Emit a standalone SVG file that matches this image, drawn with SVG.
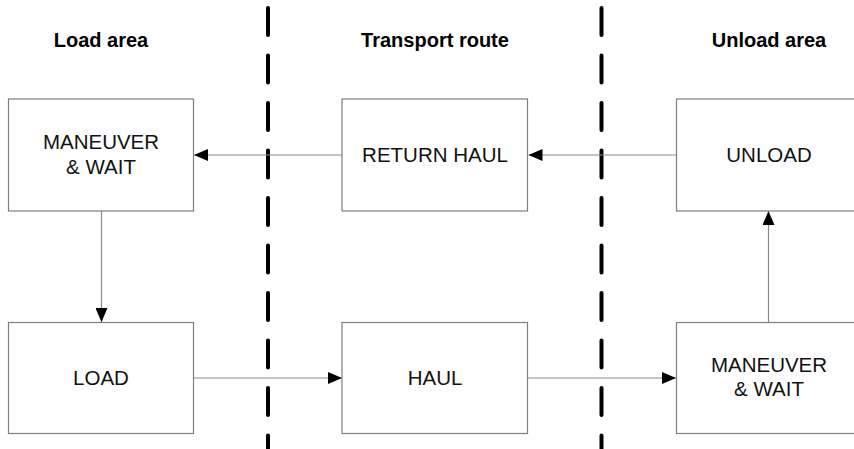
<svg xmlns="http://www.w3.org/2000/svg" width="854" height="449" viewBox="0 0 854 449">
<style>
.box{fill:#fff;stroke:#7f7f7f;stroke-width:1.2}
.t{font-family:"Liberation Sans",Arial,sans-serif;font-size:20.5px;fill:#111;text-anchor:middle}
.h{font-family:"Liberation Sans",Arial,sans-serif;font-size:20px;font-weight:bold;fill:#000;text-anchor:middle}
.c{stroke:#8a8a8a;stroke-width:1.2;fill:none;marker-end:url(#ah)}
.div{stroke:#000;stroke-width:4;stroke-dasharray:27 20.5;stroke-linecap:round;fill:none}
</style>
<defs>
<marker id="ah" viewBox="0 0 14 12" refX="14" refY="6" markerWidth="14" markerHeight="12" markerUnits="userSpaceOnUse" orient="auto">
<path d="M0,0 L14,6 L0,12 Z" fill="#000"/>
</marker>
</defs>
<rect width="854" height="449" fill="#fff"/>
<g id="dividers">
<line class="div" x1="268" y1="8" x2="268" y2="449"/>
<line class="div" x1="601.5" y1="8" x2="601.5" y2="449"/>
</g>
<g id="headers">
<text class="h" x="101" y="46.5">Load area</text>
<text class="h" x="435" y="46.5">Transport route</text>
<text class="h" x="769" y="46.5">Unload area</text>
</g>
<g id="connectors">
<line class="c" x1="676" y1="155" x2="528.5" y2="155"/>
<line class="c" x1="342" y1="155" x2="194" y2="155"/>
<line class="c" x1="101.5" y1="211" x2="101.5" y2="322"/>
<line class="c" x1="194" y1="378" x2="342" y2="378"/>
<line class="c" x1="528" y1="378" x2="676" y2="378"/>
<line class="c" x1="768.5" y1="322" x2="768.5" y2="211"/>
</g>
<g id="maneuver-load">
<rect class="box" x="8.5" y="99" width="185" height="112"/>
<text class="t" x="101" y="148.5">MANEUVER</text>
<text class="t" x="101" y="173.5">&amp; WAIT</text>
</g>
<g id="return-haul">
<rect class="box" x="342" y="99" width="185.5" height="112"/>
<text class="t" x="435" y="162">RETURN HAUL</text>
</g>
<g id="unload">
<rect class="box" x="676.5" y="99" width="185" height="112"/>
<text class="t" x="769" y="162">UNLOAD</text>
</g>
<g id="load">
<rect class="box" x="8.5" y="322.5" width="185" height="111"/>
<text class="t" x="101" y="385">LOAD</text>
</g>
<g id="haul">
<rect class="box" x="342" y="322.5" width="185.5" height="111"/>
<text class="t" x="435" y="385">HAUL</text>
</g>
<g id="maneuver-unload">
<rect class="box" x="676.5" y="322.5" width="185" height="111"/>
<text class="t" x="769" y="371.5">MANEUVER</text>
<text class="t" x="769" y="396">&amp; WAIT</text>
</g>
</svg>
